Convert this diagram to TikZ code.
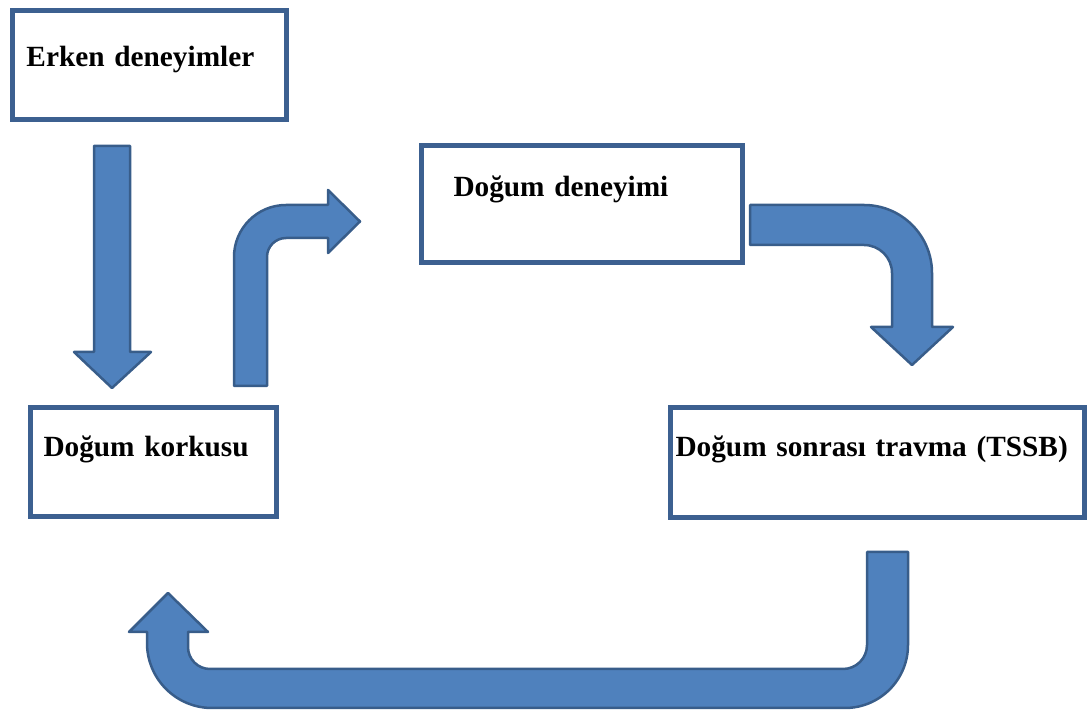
\documentclass[tikz,border=0pt]{standalone}
\usepackage{fontspec}
\setmainfont{Liberation Serif}
\usepackage{tikz}

\definecolor{arrowfill}{HTML}{4F81BD}
\definecolor{arrowline}{HTML}{385D8A}
\definecolor{boxline}{HTML}{3C6090}

\begin{document}
\begin{tikzpicture}[x=1pt, y=1pt,
    box/.style={draw=boxline, line width=5pt, anchor=north west,
        inner ysep=0pt, align=left,
        font=\bfseries\fontsize{29.3}{35}\selectfont}]

            \useasboundingbox (0,0) rectangle (1088,715);

            \node[box, inner xsep=14pt, text width=246pt, text height=56pt, text depth=53pt] (early) at (10,707) {Erken deneyimler};
            \node[box, inner xsep=32pt, text width=257pt, text height=51pt, text depth=66pt] (birth) at (419,572) {Doğum deneyimi};
            \node[box, inner xsep=13pt, text width=220pt, text height=49pt, text depth=60pt] (fear) at (28,310) {Doğum korkusu};
            \node[box, inner xsep=5pt, text width=404pt, text height=49pt, text depth=61pt] (ptsd) at (668,310) {\mbox{Doğum sonrası travma (TSSB)}};

            \begin{scope}[fill=arrowfill, draw=arrowline, line width=2.5pt, line join=round]

                \filldraw (94,569) -- (130,569) -- (130,363) -- (151,363) -- (112,327)
                    -- (74,363) -- (94,363) -- cycle;

                \filldraw (234,329) -- (234,458) arc[start angle=180, end angle=90, radius=52]
                    -- (328,510) -- (328,525) -- (360,493.5) -- (328,462) -- (328,477)
                    -- (286,477) arc[start angle=90, end angle=180, radius=19]
                    -- (267,329) -- cycle;

                \filldraw (750,510) -- (864,510) arc[start angle=90, end angle=0, radius=68]
                    -- (932,388) -- (953,388) -- (912,350) -- (871,388) -- (892,388)
                    -- (892,442) arc[start angle=0, end angle=90, radius=28]
                    -- (750,470) -- cycle;

                \filldraw (867,163) -- (908,163) -- (908,70) arc[start angle=0, end angle=-90, radius=63]
                    -- (212,7) arc[start angle=270, end angle=180, radius=65]
                    -- (147,83) -- (129,83) -- (168,122) -- (208,83) -- (188,83)
                    -- (188,68) arc[start angle=180, end angle=270, radius=22]
                    -- (843,46) arc[start angle=270, end angle=360, radius=24]
                    -- cycle;

            \end{scope}

            \end{tikzpicture}
\end{document}
